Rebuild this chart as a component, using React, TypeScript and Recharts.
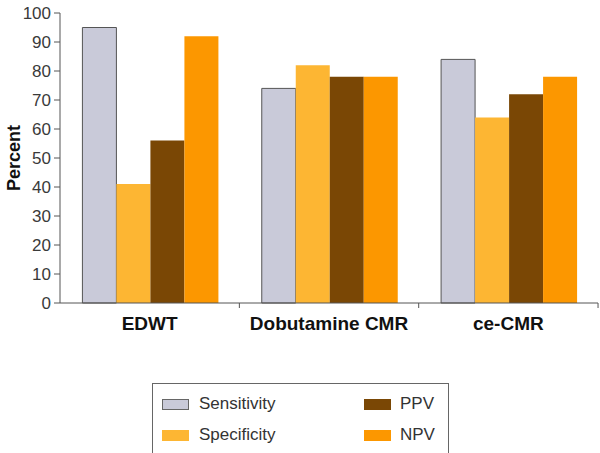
import { BarChart, Bar, XAxis, YAxis } from 'recharts';

// Categorías y valores (%)
const categories = ['EDWT', 'Dobutamine CMR', 'ce-CMR'];
const sensitivity = [95, 74, 84];
const specificity = [41, 82, 64];
const ppv = [56, 78, 72];
const npv = [92, 78, 78];
const yTicks = [0, 10, 20, 30, 40, 50, 60, 70, 80, 90, 100];

const series = [
  { key: 'sensitivity', name: 'Sensitivity', fill: '#c9cad9', stroke: '#555555' },
  { key: 'specificity', name: 'Specificity', fill: '#fdb633', stroke: 'none' },
  { key: 'ppv', name: 'PPV', fill: '#7a4705', stroke: 'none' },
  { key: 'npv', name: 'NPV', fill: '#fc9700', stroke: 'none' },
];

const data = categories.map((c, i) => ({
  name: c,
  sensitivity: sensitivity[i],
  specificity: specificity[i],
  ppv: ppv[i],
  npv: npv[i],
}));

const font = '"Liberation Sans", Arial, sans-serif';

// tick del eje X: etiqueta en el centro, marca en el borde derecho de la categoría
const CategoryTick = (props: any) => {
  const { x, y, payload } = props;
  const half = 89.7;
  return (
    <g>
      <line x1={x + half} y1={y} x2={x + half} y2={y + 5} stroke="#555" />
      <text x={x} y={y + 27} textAnchor="middle" fontSize={19} fontWeight="bold" fill="#111" fontFamily={font}>
        {payload.value}
      </text>
    </g>
  );
};

export default function App() {
  const legendRows = [
    [series[0], series[2]],
    [series[1], series[3]],
  ];
  return (
    <div style={{ position: 'absolute', left: 0, top: 0, width: 600, height: 453, background: '#fff', overflow: 'hidden' }}>
      <BarChart
        width={600}
        height={453}
        data={data}
        margin={{ top: 13, right: 2, left: 0, bottom: 0 }}
        barCategoryGap="12.5%"
        barGap={0}
      >
        <XAxis
          dataKey="name"
          height={150}
          axisLine={{ stroke: '#555' }}
          tickLine={false}
          tickSize={0}
          tickMargin={0}
          tick={<CategoryTick />}
          interval={0}
        />
        <YAxis
          width={60}
          domain={[0, 100]}
          ticks={yTicks}
          interval={0}
          axisLine={{ stroke: '#555' }}
          tickLine={{ stroke: '#555' }}
          tickSize={6}
          tickMargin={3}
          tick={{ fontSize: 17, fill: '#3a3a3a', fontFamily: font }}
          label={{
            value: 'Percent',
            angle: -90,
            position: 'insideLeft',
            offset: 14,
            style: { fontSize: 18, fontWeight: 'bold', fill: '#111', fontFamily: font, textAnchor: 'middle' },
          }}
        />
        {series.map((s) => (
          <Bar
            key={s.key}
            dataKey={s.key}
            name={s.name}
            fill={s.fill}
            stroke={s.stroke}
            strokeWidth={1}
            isAnimationActive={false}
          />
        ))}
      </BarChart>

      {/* Leyenda */}
      <div
        style={{
          position: 'absolute',
          left: 152,
          top: 383,
          width: 295,
          height: 80,
          border: '1px solid #666',
          fontFamily: font,
          fontSize: 17,
          color: '#333',
        }}
      >
        {legendRows.map((row, r) => (
          <div key={r} style={{ position: 'absolute', top: 10 + r * 31, left: 0, width: '100%', height: 20 }}>
            {row.map((s, c) => (
              <div key={s.key} style={{ position: 'absolute', left: c === 0 ? 9 : 211, top: 0, height: 20, display: 'flex', alignItems: 'center' }}>
                <span
                  style={{
                    display: 'inline-block',
                    width: 27,
                    height: 11,
                    background: s.fill,
                    border: s.stroke === 'none' ? 'none' : '1px solid #666',
                    boxSizing: 'border-box',
                    marginRight: c === 0 ? 10 : 9,
                  }}
                />
                <span>{s.name}</span>
              </div>
            ))}
          </div>
        ))}
      </div>
    </div>
  );
}
